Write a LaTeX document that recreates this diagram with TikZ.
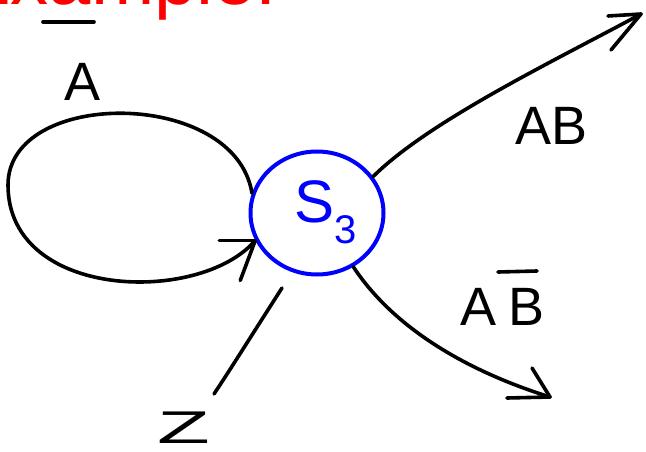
\documentclass[tikz,border=0pt]{standalone}
\usepackage{fontspec}
\setmainfont{Liberation Sans}
\usetikzlibrary{shapes.geometric}
\tikzset{
  stroke/.style={draw=black, line width=3.6pt, line cap=round, line join=round},
  lbl/.style={anchor=base west, inner sep=0pt, font=\fontsize{54}{54}\selectfont},
}
\begin{document}
\begin{tikzpicture}[x=1pt,y=-1pt]
\useasboundingbox (0,0) rectangle (646,452);
\clip (0,0) rectangle (646,452);
% red heading, cut off at the top
\node[anchor=base west, inner sep=0pt, text=red, font=\fontsize{76}{76}\selectfont] (ex) at (-40,5) {Example:};
% state
\node[ellipse, draw=blue, line width=4pt, minimum width=133pt, minimum height=123pt, inner sep=0pt] (s3) at (317,213) {};
\node[anchor=base west, inner sep=0pt, text=blue, font=\fontsize{60}{60}\selectfont] (s3t) at (294,222) {S\raisebox{-21pt}{\fontsize{40}{40}\selectfont 3}};
% self loop
\coordinate (loopEnd) at (s3.204);
\draw[stroke] (s3.163) .. controls (235,88) and (8,88) .. (8,185)
  .. controls (8,300) and (200,305) .. (loopEnd);
\draw[stroke] (loopEnd) -- ++(-36,0);
\draw[stroke] (loopEnd) -- ++(-15,40);
% A-bar label
\node[lbl] (labA) at (64,100) {A};
\draw[stroke] (43,22) -- (94,22);
% AB arrow
\coordinate (abTip) at (641,14);
\draw[stroke] (s3.33) .. controls (430,120) and (560,58) .. (abTip);
\draw[stroke] (abTip) -- ++(-33,2);
\draw[stroke] (abTip) -- ++(-30,36);
\node[lbl] (labAB) at (515,145) {AB};
% AB-bar arrow
\coordinate (abnTip) at (550,397);
\draw[stroke] (s3.-56) .. controls (395,330) and (470,372) .. (abnTip);
\draw[stroke] (abnTip) -- ++(-43,1);
\draw[stroke] (abnTip) -- ++(-18,-29);
\node[lbl] (labABn) at (460,325) {A\hspace{12pt}B};
\draw[stroke] (498,272) -- (537,271);
% Z input
\coordinate (zTop) at (282,288);
\coordinate (zEnd) at (214,394);
\draw[stroke] (zTop) .. controls (255,330) and (230,370) .. (zEnd);
\node[lbl] (labZ) at (157,443) {\scalebox{1.6}[0.85]{Z}};
\end{tikzpicture}
\end{document}
